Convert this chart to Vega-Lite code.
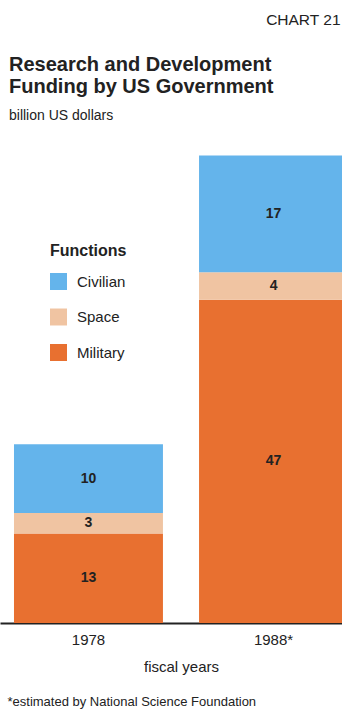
{
  "$schema": "https://vega.github.io/schema/vega-lite/v6.json",
  "width": 348,
  "height": 493,
  "autosize": {"type": "none"},
  "padding": {"top": 130, "left": 0, "right": 0, "bottom": 87},
  "background": "white",
  "config": {"view": {"stroke": null}, "font": "Liberation Sans"},
  "title": {
    "text": ["Research and Development", "Funding by US Government"],
    "subtitle": "billion US dollars",
    "anchor": "start",
    "frame": "group",
    "dx": 9,
    "offset": -111,
    "fontSize": 20,
    "fontWeight": "bold",
    "color": "#222222",
    "lineHeight": 22,
    "subtitleFontSize": 14,
    "subtitleColor": "#222222",
    "subtitlePadding": 12,
    "font": "Liberation Sans",
    "subtitleFont": "Liberation Sans"
  },
  "data": {
    "values": [
      {"year": "1978", "function": "Military", "value": 13, "rank": 1},
      {"year": "1978", "function": "Space", "value": 3, "rank": 2},
      {"year": "1978", "function": "Civilian", "value": 10, "rank": 3},
      {"year": "1988", "function": "Military", "value": 47, "rank": 1},
      {"year": "1988", "function": "Space", "value": 4, "rank": 2},
      {"year": "1988", "function": "Civilian", "value": 17, "rank": 3}
    ]
  },
  "layer": [
    {
      "mark": {"type": "bar"},
      "encoding": {
        "x": {
          "field": "year",
          "type": "nominal",
          "scale": {"paddingInner": 0.195, "paddingOuter": 0.0378, "align": 1},
          "axis": {
            "title": "fiscal years",
            "labelExpr": "datum.value == '1988' ? '1988*' : datum.value",
            "labelAngle": 0,
            "ticks": false,
            "domainColor": "#222222",
            "domainWidth": 2,
            "labelFontSize": 15,
            "labelColor": "#222222",
            "labelPadding": 9,
            "titleFontSize": 15,
            "titleFontWeight": "normal",
            "titleColor": "#222222",
            "titlePadding": 12,
            "titleX": 181
          }
        },
        "y": {
          "field": "value",
          "type": "quantitative",
          "stack": "zero",
          "scale": {"domain": [0, 71.7], "nice": false},
          "axis": {
            "orient": "left",
            "title": "*estimated by National Science Foundation",
            "domain": false,
            "ticks": false,
            "labels": false,
            "grid": false,
            "titleAngle": 0,
            "titleAlign": "left",
            "titleBaseline": "alphabetic",
            "titleX": 7,
            "titleY": 575,
            "titleFontSize": 13,
            "titleFontWeight": "normal",
            "titleColor": "#222222"
          }
        },
        "color": {
          "field": "function",
          "type": "nominal",
          "scale": {
            "domain": ["Civilian", "Space", "Military"],
            "range": ["#64b4eb", "#f0c4a2", "#e87030"]
          },
          "legend": {
            "orient": "none",
            "legendX": 50,
            "legendY": 113,
            "title": "Functions",
            "titleFontSize": 16,
            "titleFontWeight": "bold",
            "titleColor": "#222222",
            "titlePadding": 14,
            "symbolType": "square",
            "symbolSize": 289,
            "symbolStrokeWidth": 0,
            "symbolOpacity": 1,
            "labelFontSize": 15,
            "labelColor": "#222222",
            "labelOffset": 10,
            "rowPadding": 18.5
          }
        },
        "order": {"field": "rank", "type": "quantitative"}
      }
    },
    {
      "transform": [
        {"stack": "value", "groupby": ["year"], "sort": [{"field": "rank"}], "as": ["y0", "y1"]},
        {"calculate": "(datum.y0 + datum.y1) / 2", "as": "mid"}
      ],
      "mark": {"type": "text", "fontWeight": "bold", "fontSize": 14, "color": "#222222"},
      "encoding": {
        "x": {"field": "year", "type": "nominal"},
        "y": {
          "field": "mid",
          "type": "quantitative",
          "axis": {
            "orient": "right",
            "title": "CHART 21",
            "domain": false,
            "ticks": false,
            "labels": false,
            "grid": false,
            "titleAngle": 0,
            "titleAlign": "right",
            "titleBaseline": "alphabetic",
            "titleX": -8,
            "titleY": -106,
            "titleFontSize": 15.5,
            "titleFontWeight": "normal",
            "titleColor": "#222222"
          }
        },
        "text": {"field": "value"}
      }
    }
  ]
}
